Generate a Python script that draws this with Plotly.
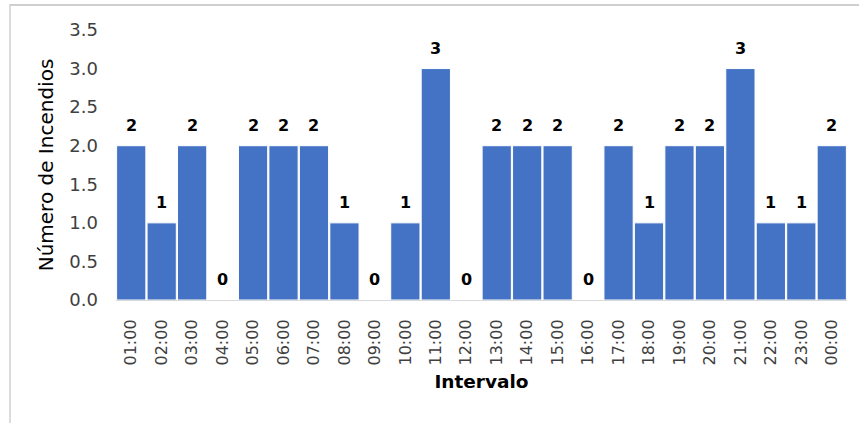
import plotly.graph_objects as go

categories = ["01:00", "02:00", "03:00", "04:00", "05:00", "06:00", "07:00", "08:00",
              "09:00", "10:00", "11:00", "12:00", "13:00", "14:00", "15:00", "16:00",
              "17:00", "18:00", "19:00", "20:00", "21:00", "22:00", "23:00", "00:00"]
incendios = [2, 1, 2, 0, 2, 2, 2, 1, 0, 1, 3, 0, 2, 2, 2, 0, 2, 1, 2, 2, 3, 1, 1, 2]
y_ticks = [0.0, 0.5, 1.0, 1.5, 2.0, 2.5, 3.0, 3.5]
y_tick_labels = ["0.0", "0.5", "1.0", "1.5", "2.0", "2.5", "3.0", "3.5"]

FONT = "DejaVu Sans"
W, H = 859, 423
ml, mr, mt, mb = 116, 12, 30, 123

fig = go.Figure()
fig.add_trace(go.Bar(
    x=categories, y=incendios,
    marker=dict(color="#4472C4", line=dict(color="white", width=1)),
    hoverinfo="x+y",
))

annotations = []
for c, v in zip(categories, incendios):
    annotations.append(dict(
        x=c, y=v, xref="x", yref="y", text=f"<b>{v}</b>", showarrow=False,
        yanchor="bottom", yshift=9,
        font=dict(family=FONT, size=16, color="#000000"),
    ))

pw = W - ml - mr
ph = H - mt - mb
fig.update_layout(
    width=W, height=H,
    margin=dict(l=ml, r=mr, t=mt, b=mb),
    paper_bgcolor="white", plot_bgcolor="white",
    bargap=0.04,
    showlegend=False,
    annotations=annotations,
    shapes=[
        dict(type="line", xref="paper", yref="paper",
             x0=(10 - ml) / pw, x1=(W + 20 - ml) / pw,
             y0=(H - mb - 5) / ph, y1=(H - mb - 5) / ph,
             line=dict(color="#cfcfcf", width=2)),
        dict(type="line", xref="paper", yref="paper",
             x0=(10 - ml) / pw, x1=(10 - ml) / pw,
             y0=(H - mb - 4) / ph, y1=(H - mb - 450) / ph,
             line=dict(color="#d0d0d0", width=1.5)),
    ],
    xaxis=dict(
        type="category",
        automargin=False,
        tickangle=-90,
        tickfont=dict(family=FONT, size=16, color="#404040"),
        showline=True, linecolor="#d9d9d9", linewidth=1,
        showgrid=False, ticks="",
        ticklabelstandoff=12,
        title=dict(text="<b>Intervalo</b>", font=dict(family=FONT, size=18.5, color="#000000"), standoff=10),
    ),
    yaxis=dict(
        range=[0, 3.5],
        automargin=False,
        tickvals=y_ticks, ticktext=y_tick_labels,
        tickfont=dict(family=FONT, size=18, color="#404040"),
        showline=False, showgrid=False, zeroline=False, ticks="",
        ticklabelstandoff=17,
        title=dict(text="Número de Incendios", font=dict(family=FONT, size=20, color="#000000"), standoff=10),
    ),
)

fig.write_html("out.html", config={"displayModeBar": False},
               post_script="document.body.style.margin='0';")
